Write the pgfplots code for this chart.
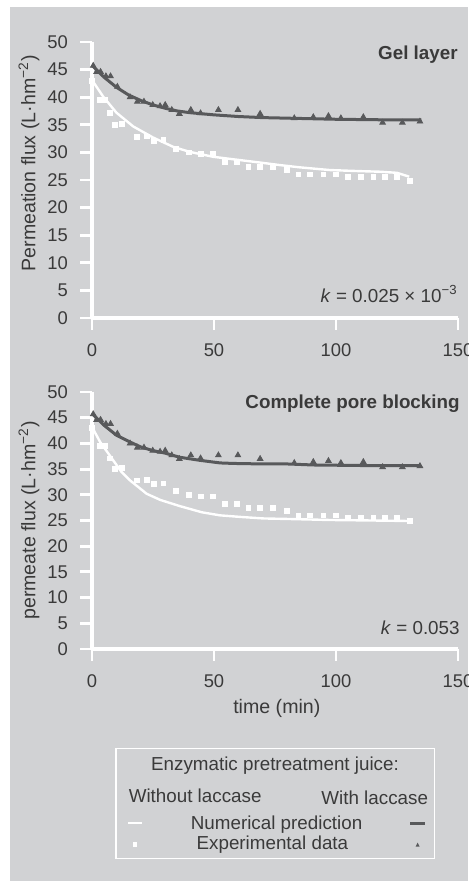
\documentclass[border=0pt]{standalone}
\usepackage{fontspec}
\setmainfont{Liberation Sans}
\usepackage{pgfplots}
\pgfplotsset{compat=1.18}
\definecolor{panel}{HTML}{D1D2D4}
\definecolor{ink}{HTML}{3A3A3A}
\definecolor{laccase}{HTML}{58595B}

\pgfplotsset{
  fluxaxis/.style={
    scale only axis, width=183pt,
    xmin=0, xmax=150, ymin=0, ymax=50,
    xtick={0,50,100,150}, ytick={0,5,...,50},
    axis x line=bottom, axis y line=left,
    axis line style={-, white, line width=1.6pt},
    tick style={white, line width=1.4pt},
    tick align=outside, major tick length=6pt,
    tick label style={font=\fontsize{9.2}{11}\selectfont, text=ink},
    yticklabel style={xshift=-2.5pt},
    xticklabel style={yshift=-3.5pt},
    /pgf/number format/assume math mode=true,
    label style={font=\fontsize{9.8}{11}\selectfont, text=ink},
    clip=false,
  },
  withline/.style={laccase, line width=1.5pt, mark=none},
  noline/.style={white, line width=1.2pt, mark=none},
  withdata/.style={only marks, mark=triangle*, mark size=1.6pt, mark options={fill=laccase, draw=laccase}},
  nodata/.style={only marks, mark=square*, mark size=1.2pt, mark options={fill=white, draw=white}},
}

% experimental data (same runs in both panels)
\pgfplotstableread{
t y
0.5 45.7
1.9 44.6
3.5 44.6
5.7 43.8
7.6 43.8
10.4 41.9
15.6 40.0
18.6 39.2
21.3 39.2
24.9 38.6
27.9 38.4
30.0 38.6
32.7 37.7
35.8 37.0
40.5 37.7
44.5 37.1
51.8 37.7
59.8 37.7
68.9 37.0
82.9 36.2
90.7 36.4
96.9 36.6
102.0 36.2
111.2 36.4
119.1 35.4
127.2 35.4
134.4 35.6
}\withlac
\pgfplotstableread{
t y
0.0 43.0
3.3 39.5
5.3 39.5
7.4 37.1
9.4 35.0
12.4 35.2
18.4 32.8
22.5 32.9
25.5 32.1
29.3 32.2
34.4 30.7
39.7 30.0
44.5 29.7
49.7 29.7
54.5 28.3
59.5 28.2
64.1 27.4
68.9 27.4
74.3 27.4
79.8 26.8
84.6 26.0
89.3 26.0
94.8 26.0
100.0 26.0
105.0 25.5
110.2 25.5
115.3 25.5
120.1 25.5
124.9 25.5
130.3 24.9
}\nolac

\begin{document}
\begin{tikzpicture}
\path[use as bounding box, fill=white] (0,0) rectangle (234pt,440.5pt);
\fill[panel] (5pt,0) rectangle (234pt,437pt);

% gel layer
\begin{axis}[fluxaxis, at={(46pt,281.5pt)}, anchor=south west, height=138pt,
  ylabel={Permeation flux (L·hm\textsuperscript{−2})},
  ylabel style={at={(axis description cs:-0.172,0.56)}, anchor=center},
]
\addplot[noline] coordinates {(0,43.1)(4.6,40.1)(10,37.2)(16.9,34.7)(25,32.7)(33.3,31.0)(40,30.1)(49.7,29.2)(60.7,28.6)(70,28.1)(77,27.7)(85,27.3)(97.5,26.8)(110,26.6)(118,26.5)(125,26.3)(130,25.6)};
\addplot[withline] coordinates {(0,45.8)(5,43.6)(10,41.8)(15,40.4)(20,39.4)(25,38.6)(30,38.0)(35,37.5)(40,37.2)(50,36.8)(60,36.5)(70,36.3)(80,36.2)(90,36.1)(100,36.0)(110,35.95)(120,35.9)(135,35.9)};
\addplot[nodata] table {\nolac};
\addplot[withdata] table {\withlac};
\end{axis}

% complete pore blocking
\begin{axis}[fluxaxis, at={(46pt,116pt)}, anchor=south west, height=128.5pt,
  ylabel={permeate flux (L·hm\textsuperscript{−2})},
  ylabel style={at={(axis description cs:-0.172,0.50)}, anchor=center},
  xlabel={time (min)},
  xlabel style={at={(axis description cs:0.505,-0.23)}, anchor=center},
]
\addplot[noline] coordinates {(0,43.2)(3.3,40.3)(8.7,36.7)(12,34.5)(15.6,32.8)(22.4,30.2)(28,29.0)(36,27.8)(45,26.6)(52.5,26.0)(60.7,25.7)(70.2,25.4)(80,25.3)(97.5,25.1)(115,25.0)(130.3,24.9)};
\addplot[withline] coordinates {(0,45.8)(5,43.5)(10,41.6)(15,40.4)(20,39.3)(25,38.6)(30,38.1)(36,37.3)(44.3,36.7)(52.5,36.2)(58,36.1)(70,36.0)(80,36.0)(90.7,35.8)(110,35.7)(134.4,35.7)};
\addplot[nodata] table {\nolac};
\addplot[withdata] table {\withlac};
\end{axis}

\begin{scope}[every node/.style={text=ink, inner sep=0pt, font=\fontsize{9.4}{11}\selectfont}]
\node[anchor=base east, font=\fontsize{9.4}{11}\selectfont\bfseries] at (229pt,410.9pt) {Gel layer};
\node[anchor=base east] at (229pt,289.2pt) {\textit{k} = 0.025 × 10\textsuperscript{−3}};
\node[anchor=base east, font=\fontsize{9.4}{11}\selectfont\bfseries] at (230pt,236.3pt) {Complete pore blocking};
\node[anchor=base east] at (230pt,123pt) {\textit{k} = 0.053};

% legend
\draw[white, line width=0.7pt] (58pt,11.3pt) rectangle (217.2pt,66.3pt);
\node[anchor=base] at (137.5pt,55.2pt) {Enzymatic pretreatment juice:};
\node[anchor=base west] at (64.2pt,39.2pt) {Without laccase};
\node[anchor=base east] at (214.2pt,38pt) {With laccase};
\node[anchor=base] at (138.3pt,25.8pt) {Numerical prediction};
\node[anchor=base] at (136.2pt,15.5pt) {Experimental data};
\draw[white, line width=1.1pt] (64.2pt,28.8pt) -- (70.8pt,28.8pt);
\draw[laccase, line width=1.3pt] (205pt,28.8pt) -- (212.5pt,28.8pt);
\fill[white] (66.3pt,17.1pt) rectangle (68.7pt,19.5pt);
\fill[laccase] (207.8pt,17.2pt) -- (209.8pt,17.2pt) -- (208.8pt,19.2pt) -- cycle;
\end{scope}
\end{tikzpicture}
\end{document}
